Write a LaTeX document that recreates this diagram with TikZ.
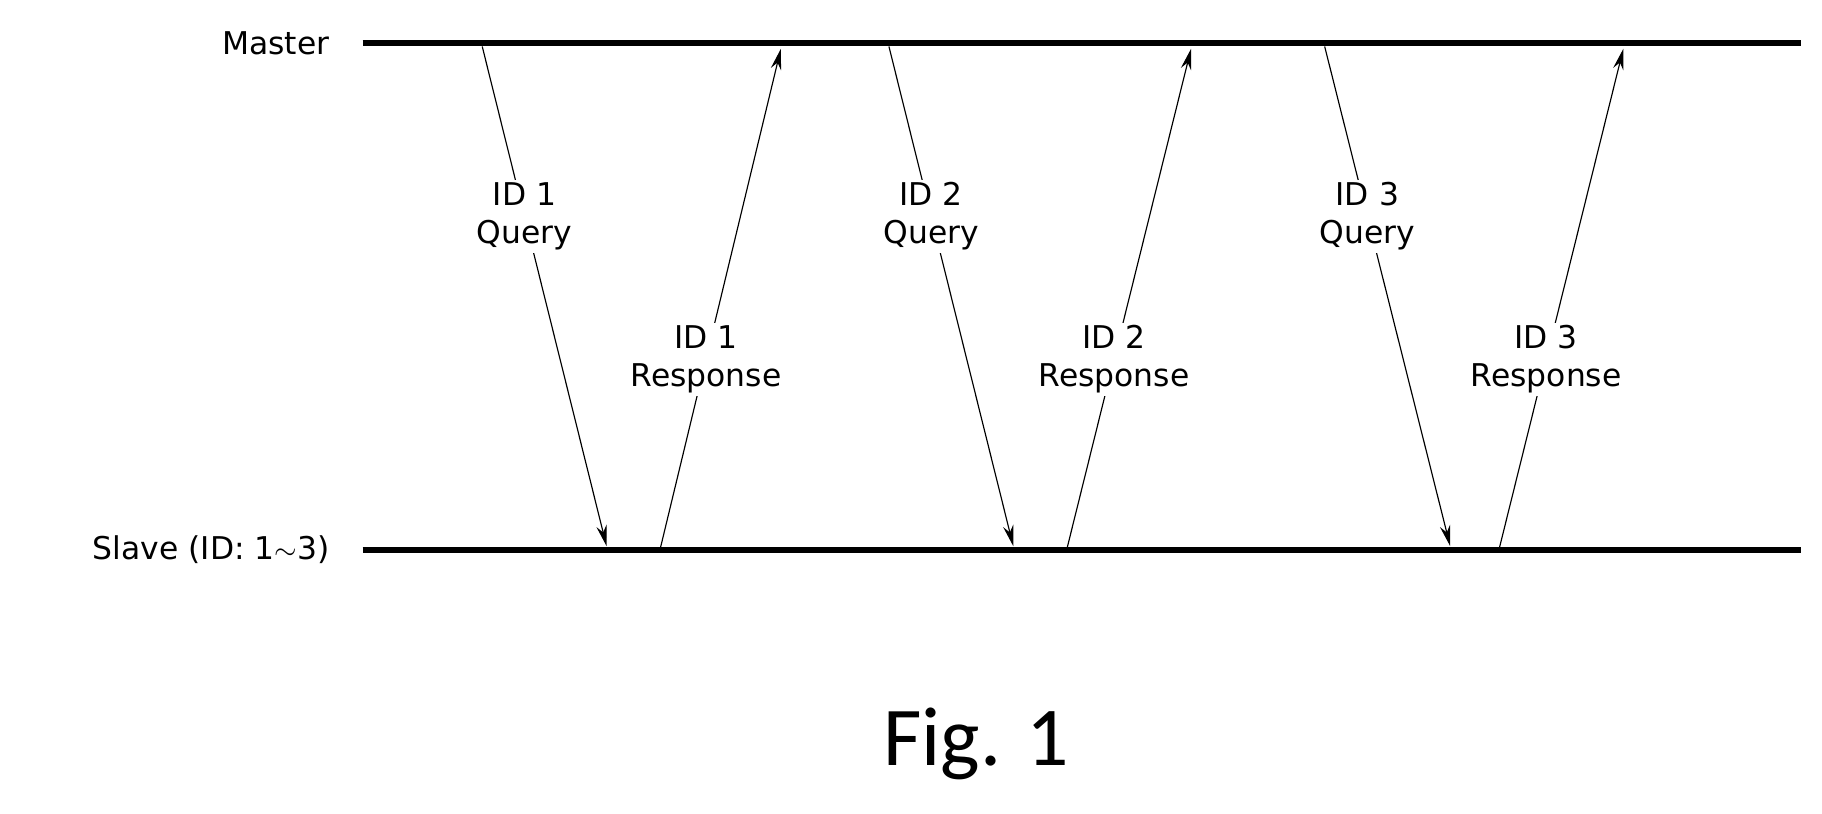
\documentclass[tikz,border=0pt]{standalone}
\usepackage{fontspec}
\setmainfont{DejaVu Sans}
\newfontfamily\figfont{Carlito}
\usetikzlibrary{arrows.meta,calc}
\begin{document}
\begin{tikzpicture}[x=1pt,y=-1pt,
  bar/.style={line width=5pt},
  msg/.style={line width=1pt,-{Stealth[length=18pt,width=9pt]}},
  lbl/.style={fill=white,align=center,inner sep=2pt,font=\fontsize{27}{33}\selectfont},
  side/.style={anchor=east,font=\fontsize{27}{33}\selectfont}]
\useasboundingbox (0,0) rectangle (1568,700);
\coordinate (m0) at (312,37); \coordinate (m1) at (1550,37);
\coordinate (s0) at (312,473); \coordinate (s1) at (1550,473);
\draw[bar] (m0) -- (m1);
\draw[bar] (s0) -- (s1);
\node[side] (master) at (287,37) {Master};
\node[side] (slave) at (287,473) {Slave (ID: 1$\sim$3)};
\foreach \i/\qa/\qb/\ra/\rb in {1/415/522/568/672, 2/765/872/918/1025, 3/1140/1248/1290/1397}{
  \coordinate (qs\i) at (\qa,40); \coordinate (qe\i) at (\qb,470);
  \coordinate (rs\i) at (\ra,473); \coordinate (re\i) at (\rb,42);
  \draw[msg] (qs\i) -- (qe\i);
  \draw[msg] (rs\i) -- (re\i);
  \node[lbl] (ql\i) at ($(qs\i)!0.34!(qe\i)$) {ID \i\\Query};
  \node[lbl] (rl\i) at ($(rs\i)!0.38!(re\i)$) {ID \i\\Response};
}
\node[font=\figfont\fontsize{72}{80}\selectfont] (fig) at (840,640) {Fig. 1};
\end{tikzpicture}
\end{document}
